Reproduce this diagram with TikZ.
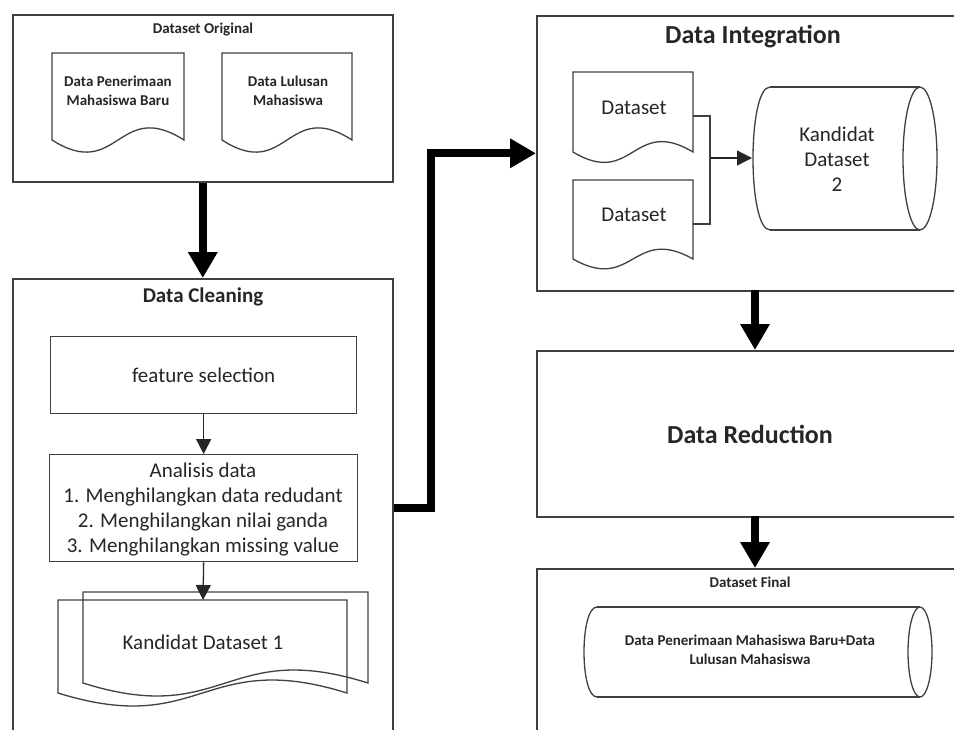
\documentclass[tikz,border=0pt]{standalone}
\usepackage{fontspec}
\setmainfont{Carlito}
\usetikzlibrary{arrows.meta}
\newcommand\mydoc[5]{\draw[shapeline] (#1,#3) -- (#2,#3) -- (#2,#4) .. controls ({(#1+#2)/2},{#4-#5}) and ({(#1+#2)/2},{#4+#5}) .. (#1,#4) -- cycle;}
\newcommand\mycyl[6]{% xl xr yt yb rxl rxr
  \draw[shapeline] (#1,#3) -- (#2,#3);
  \draw[shapeline] (#1,#4) -- (#2,#4);
  \draw[shapeline] (#1,#3) .. controls ({#1-1.333*#5},#3) and ({#1-1.333*#5},#4) .. (#1,#4);
  \draw[shapeline] (#2,{(#3+#4)/2}) ellipse [x radius=#6, y radius={(#4-#3)/2}];}
\tikzset{
  boxline/.style={draw=black!75, line width=1.6pt},
  shapeline/.style={draw=black!75, line width=1.3pt},
  bigarrow/.style={line width=8pt, -{Triangle[width=28pt,length=26pt]}},
  smallarrow/.style={draw=black!85, line width=1.3pt, -{Triangle[width=15pt,length=15pt]}},
  txt/.style={text=black!85, inner sep=0pt, align=center},
  smallbold/.style={txt, font=\fontsize{15}{18.5}\selectfont\bfseries},
  normal/.style={txt, font=\fontsize{21}{25}\selectfont},
}
\begin{document}
\begin{tikzpicture}[x=1pt, y=-1pt]
\useasboundingbox (0,0) rectangle (954,729);
\clip (0,0) rectangle (954,729);
\fill[white] (0,0) rectangle (954,729);

% outer boxes
\node[boxline, anchor=north west, minimum width=380pt, minimum height=167pt, inner sep=0pt] (orig) at (12,14) {};
\node[boxline, anchor=north west, minimum width=380pt, minimum height=500pt, inner sep=0pt] (clean) at (12,278) {};
\node[boxline, anchor=north west, minimum width=500pt, minimum height=275pt, inner sep=0pt] (integ) at (536,15) {};
\node[boxline, anchor=north west, minimum width=500pt, minimum height=166pt, inner sep=0pt] (reduc) at (536,350) {};
\node[boxline, anchor=north west, minimum width=500pt, minimum height=200pt, inner sep=0pt] (final) at (536,568) {};

% titles
\node[smallbold] (t1) at (203,30) {Dataset Original};
\node[txt, font=\fontsize{21}{25}\selectfont\bfseries] (t2) at (203,297) {Data Cleaning};
\node[txt, font=\fontsize{26}{30}\selectfont\bfseries] (t3) at (753,37) {Data Integration};
\node[txt, font=\fontsize{26}{30}\selectfont\bfseries] (t4) at (750,434) {Data Reduction};
\node[smallbold] (t5) at (750,582) {Dataset Final};

% Dataset Original documents
\mydoc{52}{184}{53}{140}{42}
\mydoc{222}{352}{53}{140}{42}
\node[smallbold] (o1) at (118,91) {Data Penerimaan\\Mahasiswa Baru};
\node[smallbold] (o2) at (288,91) {Data Lulusan\\Mahasiswa};

% Data Cleaning inner
\node[shapeline, anchor=north west, minimum width=306pt, minimum height=77pt, inner sep=0pt] (fs) at (50,336) {};
\node[normal] (fst) at (fs.center) {feature selection};
\node[shapeline, anchor=north west, minimum width=308pt, minimum height=107pt, inner sep=0pt] (ana) at (49,454) {};
\node[normal] (anat) at (203,510) {Analisis data\\1. Menghilangkan data redudant\\2. Menghilangkan nilai ganda\\3. Menghilangkan missing value};
\mydoc{83}{368}{592}{683}{45}
\mydoc{58}{347}{600}{693}{45}
\coordinate (kd1top) at (203,600);
\node[normal] (kd1) at (203,642) {Kandidat Dataset 1};

% Data Integration inner
\mydoc{573}{693}{72}{152}{36}
\mydoc{573}{693}{180}{259}{34}
\node[normal] (d1) at (634,108) {Dataset};
\node[normal] (d2) at (634,215) {Dataset};
\coordinate (d1r) at (693,116);
\coordinate (d2r) at (693,224);
\coordinate (jn) at (710,158);
\mycyl{770}{920}{87}{230}{17}{17}
\coordinate (cyl2w) at (752,158);
\node[normal] (kd2) at (837,159) {Kandidat\\Dataset\\2};

% Dataset Final cylinder
\mycyl{597}{920}{607}{697}{13}{12}
\node[smallbold] (fin) at (750,650) {Data Penerimaan Mahasiswa Baru+Data\\Lulusan Mahasiswa};

% connectors
\draw[bigarrow] (orig.south) -- (clean.north);
\draw[smallarrow] (fs.south) -- (ana.north);
\draw[smallarrow] (ana.south) -- (kd1top);
\draw[bigarrow] (clean.east |- ana.east) -- ++(37,0) |- (integ.west);
\draw[shapeline] (d1r) -| (jn) |- (d2r);
\draw[smallarrow] (jn) -- (cyl2w);
\coordinate (a1) at (755,290);
\coordinate (a2) at (755,516);
\draw[bigarrow] (a1) -- (a1 |- reduc.north);
\draw[bigarrow] (a2) -- (a2 |- final.north);
\end{tikzpicture}
\end{document}
